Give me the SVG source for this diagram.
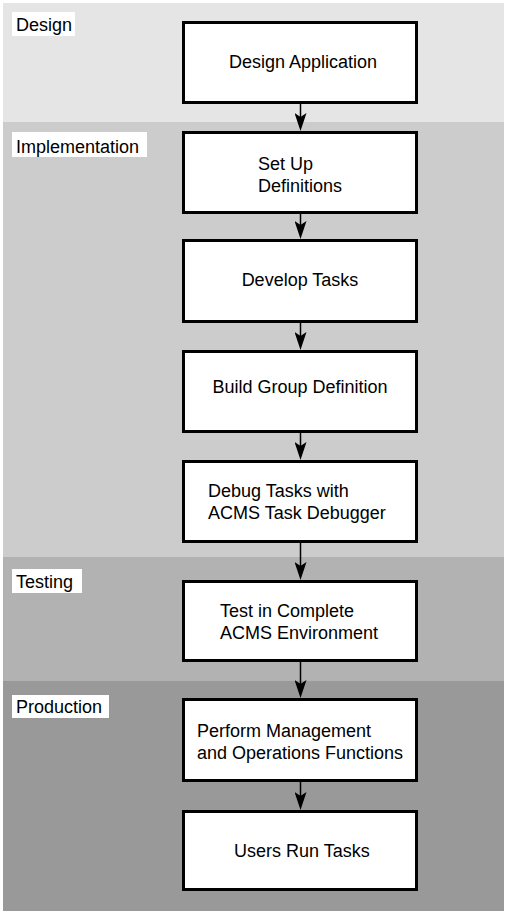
<svg xmlns="http://www.w3.org/2000/svg" width="507" height="914" viewBox="0 0 507 914">
<style>
  .band-label-bg { fill: #ffffff; }
  .band-label { font-family: "Liberation Sans", Arial, sans-serif; font-size: 18px; fill: #000; }
  .box { fill: #ffffff; stroke: #000; stroke-width: 3; }
  .txt { font-family: "Liberation Sans", Arial, sans-serif; font-size: 18px; fill: #000; }
  .conn { stroke: #000; stroke-width: 1.5; fill: none; marker-end: url(#arr); }
</style>
<defs>
  <marker id="arr" viewBox="0 0 18 12" refX="8" refY="6" markerWidth="18" markerHeight="12" markerUnits="userSpaceOnUse" orient="auto">
    <path d="M0,0 L18,6 L0,12 L4,6 Z" fill="#000"/>
  </marker>
</defs>
<rect x="0" y="0" width="507" height="914" fill="#ffffff"/>
<g id="bands">
  <rect x="3" y="3" width="501" height="119" fill="#e5e5e5"/>
  <rect x="3" y="122" width="501" height="435" fill="#cccccc"/>
  <rect x="3" y="557" width="501" height="124" fill="#b2b2b2"/>
  <rect x="3" y="681" width="501" height="230" fill="#999999"/>
</g>
<g id="band-labels">
  <rect class="band-label-bg" x="12" y="12" width="63" height="24"/>
  <text class="band-label" x="16" y="31">Design</text>
  <rect class="band-label-bg" x="12" y="132" width="135" height="25"/>
  <text class="band-label" x="16" y="153">Implementation</text>
  <rect class="band-label-bg" x="12" y="569" width="70" height="24"/>
  <text class="band-label" x="16" y="588">Testing</text>
  <rect class="band-label-bg" x="12" y="695" width="97" height="23"/>
  <text class="band-label" x="16" y="713">Production</text>
</g>
<g id="connectors">
  <line class="conn" x1="300.5" y1="104" x2="300.5" y2="121"/>
  <line class="conn" x1="300.5" y1="214" x2="300.5" y2="229"/>
  <line class="conn" x1="300.5" y1="323" x2="300.5" y2="340"/>
  <line class="conn" x1="300.5" y1="433" x2="300.5" y2="450"/>
  <line class="conn" x1="300.5" y1="543" x2="300.5" y2="570"/>
  <line class="conn" x1="300.5" y1="662" x2="300.5" y2="688"/>
  <line class="conn" x1="300.5" y1="782" x2="300.5" y2="800"/>
</g>
<g id="n1">
  <rect class="box" x="183.5" y="22.5" width="233" height="80"/>
  <text class="txt" x="229" y="68">Design Application</text>
</g>
<g id="n2">
  <rect class="box" x="183.5" y="132.5" width="233" height="80"/>
  <text class="txt" x="258" y="170">Set Up</text>
  <text class="txt" x="258" y="192">Definitions</text>
</g>
<g id="n3">
  <rect class="box" x="183.5" y="240.5" width="233" height="81"/>
  <text class="txt" x="300" y="286" text-anchor="middle">Develop Tasks</text>
</g>
<g id="n4">
  <rect class="box" x="183.5" y="351.5" width="233" height="80"/>
  <text class="txt" x="300" y="393" text-anchor="middle">Build Group Definition</text>
</g>
<g id="n5">
  <rect class="box" x="183.5" y="461.5" width="233" height="80"/>
  <text class="txt" x="208" y="497">Debug Tasks with</text>
  <text class="txt" x="208" y="519">ACMS Task Debugger</text>
</g>
<g id="n6">
  <rect class="box" x="183.5" y="581.5" width="233" height="79"/>
  <text class="txt" x="220" y="617">Test in Complete</text>
  <text class="txt" x="220" y="639">ACMS Environment</text>
</g>
<g id="n7">
  <rect class="box" x="183.5" y="699.5" width="233" height="81"/>
  <text class="txt" x="197" y="737">Perform Management</text>
  <text class="txt" x="197" y="759">and Operations Functions</text>
</g>
<g id="n8">
  <rect class="box" x="183.5" y="811.5" width="233" height="78"/>
  <text class="txt" x="234" y="857">Users Run Tasks</text>
</g>
</svg>
